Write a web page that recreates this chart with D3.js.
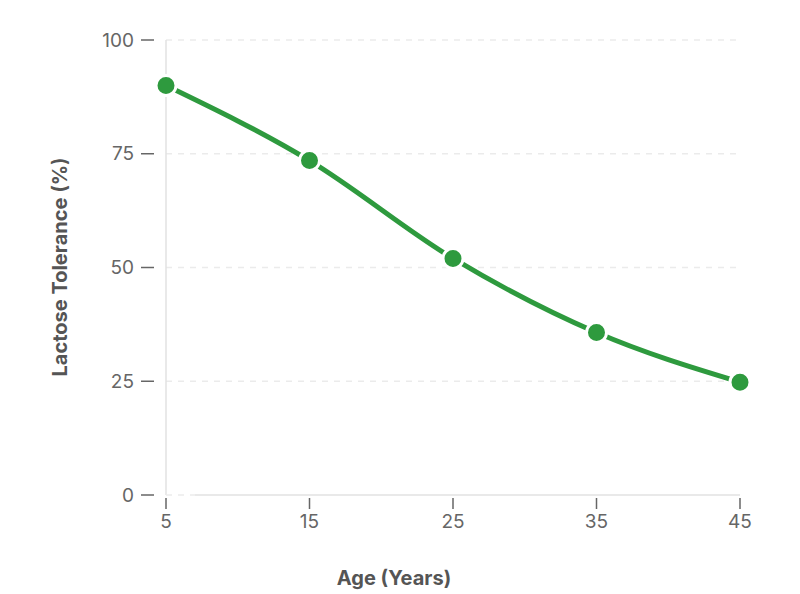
<!DOCTYPE html><html><head><script src="https://cdn.jsdelivr.net/npm/d3@7"></script>
<style>body{margin:0;background:#fff}</style></head><body><svg id="c" width="800" height="594"></svg>
<script>
const ages=[5,15,25,35,45];
const tolerance=[90,73.5,52,35.7,24.8];
const yTicks=[0,25,50,75,100];
const xTicks=[5,15,25,35,45];
const svg=d3.select("#c"), font="Inter, Roboto, sans-serif";
const x=d3.scaleLinear().domain([5,45]).range([166,740]);
const y=d3.scaleLinear().domain([0,100]).range([495,40]);
svg.append("g").selectAll("line").data(yTicks.filter(d=>d>0)).join("line")
 .attr("x1",166).attr("x2",740).attr("y1",d=>y(d)).attr("y2",d=>y(d))
 .attr("stroke","#ebebeb").attr("stroke-dasharray","6,6").attr("stroke-width",1.5);
svg.append("line").attr("x1",166).attr("x2",166).attr("y1",40).attr("y2",495).attr("stroke","#e2e2e2").attr("stroke-width",1.5);
svg.append("line").attr("x1",166).attr("x2",195).attr("y1",495).attr("y2",495).attr("stroke","#ebebeb").attr("stroke-dasharray","6,6").attr("stroke-width",1.5);
svg.append("line").attr("x1",195).attr("x2",740).attr("y1",495).attr("y2",495).attr("stroke","#e2e2e2").attr("stroke-width",1.5);
const ya=svg.append("g").selectAll("g").data(yTicks).join("g");
ya.append("line").attr("x1",141).attr("x2",154).attr("y1",d=>y(d)).attr("y2",d=>y(d)).attr("stroke","#666").attr("stroke-width",1.5);
ya.append("text").attr("x",134).attr("y",d=>y(d)).attr("dy","0.35em").attr("text-anchor","end")
 .attr("font-family",font).attr("font-size",19).attr("fill","#666").text(d=>d);
const xa=svg.append("g").selectAll("g").data(xTicks).join("g");
xa.append("line").attr("x1",d=>x(d)).attr("x2",d=>x(d)).attr("y1",498).attr("y2",509).attr("stroke","#666").attr("stroke-width",1.5);
xa.append("text").attr("x",d=>x(d)).attr("y",528).attr("text-anchor","middle")
 .attr("font-family",font).attr("font-size",19).attr("fill","#666").text(d=>d);
svg.append("text").attr("x",394).attr("y",585).attr("text-anchor","middle").attr("font-family",font)
 .attr("font-weight","bold").attr("font-size",20).attr("fill","#555").text("Age (Years)");
svg.append("text").attr("transform","translate(67,267) rotate(-90)").attr("text-anchor","middle").attr("font-family",font)
 .attr("font-weight","bold").attr("font-size",20).attr("fill","#555").text("Lactose Tolerance (%)");
const data=ages.map((a,i)=>[a,tolerance[i]]);
svg.append("path").attr("d",d3.line().x(d=>x(d[0])).y(d=>y(d[1])).curve(d3.curveMonotoneX)(data))
 .attr("fill","none").attr("stroke","#2e9a3e").attr("stroke-width",5);
svg.selectAll("circle").data(data).join("circle").attr("cx",d=>x(d[0])).attr("cy",d=>y(d[1])).attr("r",10)
 .attr("fill","#2e9a3e").attr("stroke","#fff").attr("stroke-width",3);
</script></body></html>
